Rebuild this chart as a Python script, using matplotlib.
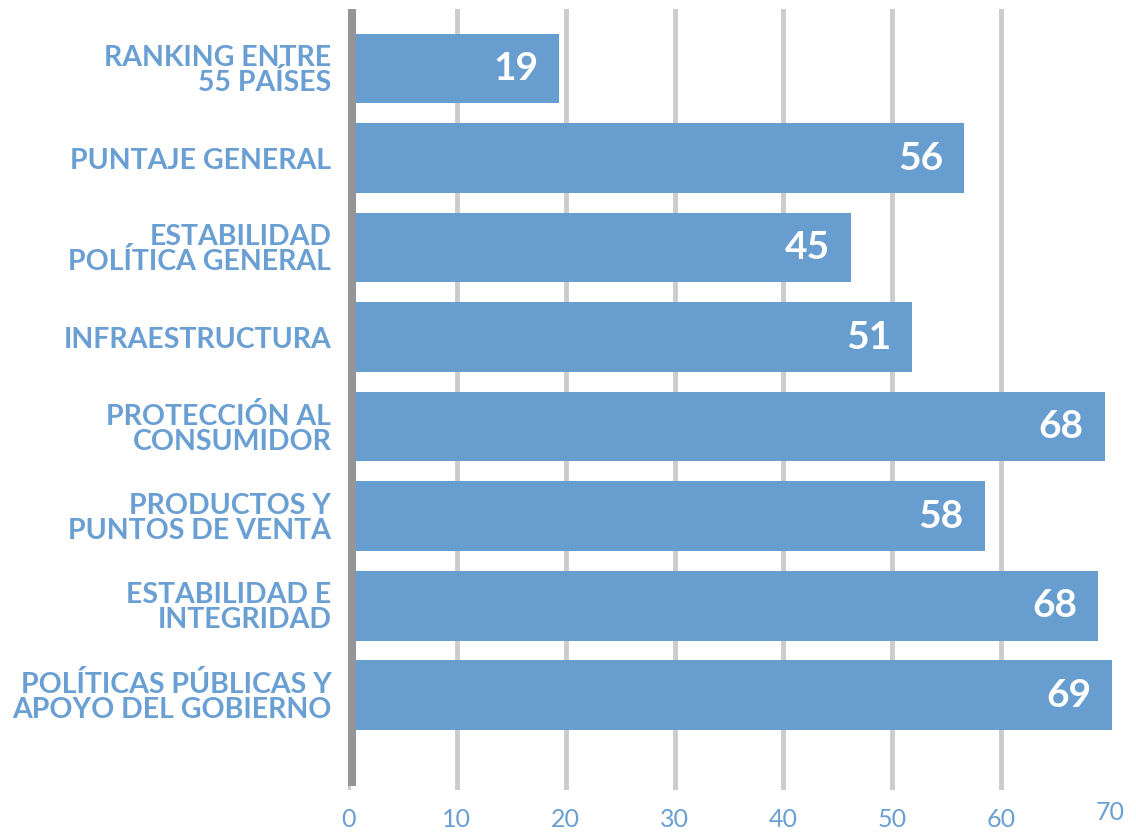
import matplotlib
matplotlib.use("Agg")
import matplotlib.pyplot as plt
import matplotlib.transforms as mtransforms
import numpy as np

plt.rcParams['font.family'] = ['Lato', 'DejaVu Sans']

categories = [
    "RANKING ENTRE\n55 PAÍSES",
    "PUNTAJE GENERAL",
    "ESTABILIDAD\nPOLÍTICA GENERAL",
    "INFRAESTRUCTURA",
    "PROTECCIÓN AL\nCONSUMIDOR",
    "PRODUCTOS Y\nPUNTOS DE VENTA",
    "ESTABILIDAD E\nINTEGRIDAD",
    "POLÍTICAS PÚBLICAS Y\nAPOYO DEL GOBIERNO",
]
scores = [19, 56, 45, 51, 68, 58, 68, 69]
# bar lengths as drawn in the picture (slightly off the printed scores)
bar_lengths = [19.4, 56.6, 46.2, 51.8, 69.5, 58.5, 68.9, 70.2]
xticks = [0, 10, 20, 30, 40, 50, 60]

blue = '#689ECF'
text_blue = '#6A9FD3'
grid_gray = '#CCCCCC'
axis_gray = '#939598'

fig = plt.figure(figsize=(11.36, 8.33), dpi=100)
ax = fig.add_axes([348 / 1136, 43 / 833, 762 / 1136, 781 / 833])

n = len(categories)
ypos = np.arange(n)[::-1]

ax.barh(ypos, bar_lengths, height=0.78, color=blue, zorder=2, clip_on=False)

for y, w, s in zip(ypos, bar_lengths, scores):
    ax.annotate(str(s), xy=(w, y), xytext=(-21, 0), textcoords='offset pixels',
                ha='right', va='center', color='white', fontsize=28,
                fontweight='bold', zorder=4, annotation_clip=False)

ax.set_xlim(0, 70)
ax.set_ylim(-1.06, 7.665)

for sp in ax.spines.values():
    sp.set_visible(False)

ax.set_xticks(xticks)
ax.set_xticklabels([str(t) for t in xticks], fontsize=18, color=text_blue)
ax.tick_params(axis='x', length=0, pad=13)
ax.grid(axis='x', color=grid_gray, linewidth=3.5, zorder=0)
ax.set_axisbelow(True)

# the 70 label sits a bit higher than the others
trans = mtransforms.blended_transform_factory(ax.transData, ax.transAxes)
ax.text(70, -0.029, "70", transform=trans, ha='center', va='center',
        fontsize=18, color=text_blue)

ax.set_yticks(ypos)
ax.set_yticklabels(categories, fontsize=20.5, color=text_blue,
                   fontweight='bold', linespacing=0.95)
ax.tick_params(axis='y', length=0, pad=12)

# thick left axis line
ax.axvline(0.37, ymin=(790 - 782) / 781, ymax=(790 - 13) / 781,
           color=axis_gray, linewidth=5.8, zorder=3)

fig.savefig('out.png', dpi=100)
